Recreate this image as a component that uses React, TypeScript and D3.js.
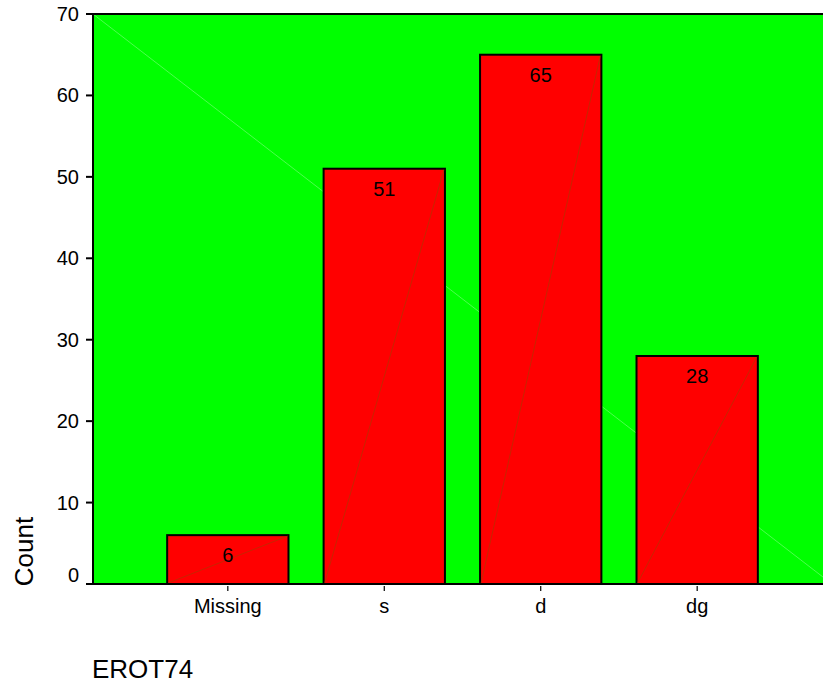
import React from "react";
import * as d3 from "d3";

const categories = ["Missing", "s", "d", "dg"];
const counts = [6, 51, 65, 28];
const yTicks = [0, 10, 20, 30, 40, 50, 60, 70];
const xTitle = "EROT74";
const yTitle = "Count";

const W = 823;
const H = 685;
const plotLeft = 93;
const plotRight = 832;
const plotTop = 14;
const plotBottom = 584;
const FONT = "'Liberation Sans', Arial, sans-serif";

export default function App() {
  const x = d3
    .scaleBand<string>()
    .domain(categories)
    .range([plotLeft, plotRight])
    .paddingInner(0.2245)
    .paddingOuter(0.474);
  const y = d3.scaleLinear().domain([0, 70]).range([plotBottom, plotTop]);

  return (
    <svg
      width={W}
      height={H}
      style={{ position: "absolute", left: 0, top: 0, background: "#fff" }}
    >
      {/* plot background */}
      <rect x={plotLeft} y={plotTop} width={plotRight - plotLeft} height={plotBottom - plotTop} fill="#00ff00" />
      <line x1={plotLeft} y1={plotTop} x2={plotRight} y2={plotBottom} stroke="#80ff80" strokeWidth={0.6} />

      {/* bars */}
      {categories.map((c, i) => {
        const bx = x(c)!;
        const bw = x.bandwidth();
        const top = y(counts[i]);
        return (
          <g key={c}>
            <rect x={bx} y={top} width={bw} height={plotBottom - top} fill="#ff0000" stroke="#000" strokeWidth={2} />
            <line x1={bx + 1} y1={plotBottom - 1} x2={bx + bw - 1} y2={top + 1} stroke="#a04000" strokeWidth={0.6} />
            <text
              x={bx + bw / 2}
              y={top + 27}
              textAnchor="middle"
              fontFamily={FONT}
              fontSize={20}
              fill="#000"
            >
              {counts[i]}
            </text>
          </g>
        );
      })}

      {/* frame: top and left */}
      <line x1={86} y1={plotTop} x2={W} y2={plotTop} stroke="#000" strokeWidth={2} />
      <line x1={plotLeft} y1={plotTop} x2={plotLeft} y2={plotBottom} stroke="#000" strokeWidth={2} />
      {/* x axis */}
      <line x1={86} y1={plotBottom} x2={W} y2={plotBottom} stroke="#000" strokeWidth={2} />

      {/* y ticks */}
      {yTicks.map((t) => (
        <g key={t}>
          <line x1={86} y1={y(t)} x2={plotLeft} y2={y(t)} stroke="#000" strokeWidth={2} />
          <text
            x={79}
            y={y(t) + (t === 0 ? -2 : 7)}
            textAnchor="end"
            fontFamily={FONT}
            fontSize={20}
            fill="#000"
          >
            {t}
          </text>
        </g>
      ))}

      {/* x ticks */}
      {categories.map((c) => {
        const cx = x(c)! + x.bandwidth() / 2;
        return (
          <g key={c}>
            <line x1={cx} y1={plotBottom + 2} x2={cx} y2={plotBottom + 7} stroke="#000" strokeWidth={1.2} />
            <text x={cx} y={613} textAnchor="middle" fontFamily={FONT} fontSize={20} fill="#000">
              {c}
            </text>
          </g>
        );
      })}

      {/* titles */}
      <text
        transform={`translate(33,551.5) rotate(-90)`}
        textAnchor="middle"
        fontFamily={FONT}
        fontSize={26}
        fill="#000"
      >
        {yTitle}
      </text>
      <text x={92} y={678} fontFamily={FONT} fontSize={26} fill="#000">
        {xTitle}
      </text>
    </svg>
  );
}
